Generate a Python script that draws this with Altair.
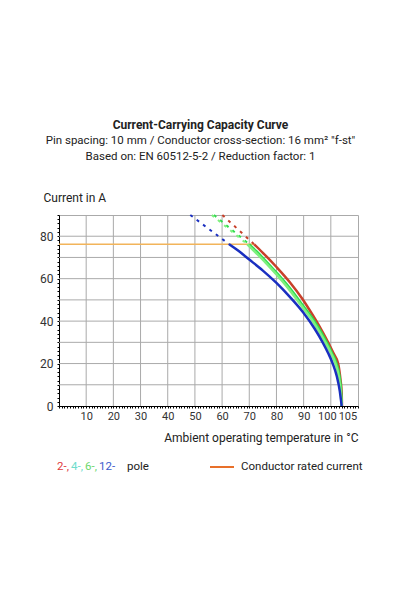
import altair as alt
import pandas as pd

# ---- data ----
series_names = ["2-pole", "4-pole", "6-pole", "12-pole"]
series_colors = ["#c8402a", "#2fdc4e", "#7ff07e", "#1a2fc0"]

# solid curves (temperature °C, current A)
t_2 = [71.8, 75.0, 80.0, 85.0, 89.5, 92.0, 94.6, 97.0, 99.0, 101.0, 102.7, 103.5, 104.0, 104.1]
i_2 = [76.2, 72.2, 65.5, 58.2, 50.5, 45.6, 40.2, 34.8, 30.0, 24.8, 20.0, 13.0, 6.0, 0.0]
t_4 = [70.0, 72.7, 76.6, 80.6, 84.6, 88.2, 91.1, 94.1, 96.6, 98.5, 100.4, 102.1, 103.2, 103.8, 104.05]
i_4 = [76.2, 72.8, 67.6, 62.0, 56.0, 50.0, 45.0, 39.7, 34.5, 30.0, 25.0, 20.0, 14.0, 7.0, 0.0]
t_6 = [69.3, 72.0, 76.0, 80.0, 84.0, 87.6, 90.5, 93.5, 96.0, 98.0, 100.0, 101.7, 102.9, 103.6, 104.0]
i_6 = [76.2, 72.8, 67.6, 62.0, 56.0, 50.0, 45.0, 39.7, 34.5, 30.0, 25.0, 20.0, 14.0, 7.0, 0.0]
t_12 = [62.6, 66.0, 70.0, 75.0, 80.0, 85.0, 90.0, 94.0, 97.0, 99.0, 100.7, 102.2, 103.3, 104.0]
i_12 = [76.2, 73.1, 69.0, 63.8, 58.0, 51.3, 43.8, 36.5, 30.0, 25.0, 20.0, 14.0, 7.0, 0.0]

# dashed extensions above the rated current
dash_t_2 = [60.1, 71.8]
dash_i_2 = [90.0, 76.2]
dash_t_4 = [57.0, 70.0]
dash_i_4 = [90.0, 76.2]
dash_t_6 = [56.2, 69.3]
dash_i_6 = [90.0, 76.2]
dash_t_12 = [48.3, 62.6]
dash_i_12 = [90.0, 76.2]

# conductor rated current
rated_t = [0.0, 71.8]
rated_i = [76.2, 76.2]

grid_x = [10, 20, 30, 40, 50, 60, 70, 80, 90, 100]
grid_y = [10, 20, 30, 40, 50, 60, 70, 80]
x_labels = [10, 20, 30, 40, 50, 60, 70, 80, 90, 100, 105]
y_labels = [0, 20, 40, 60, 80]

title_text = "Current-Carrying Capacity Curve"
subtitle_text = ["Pin spacing: 10 mm / Conductor cross-section: 16 mm\u00b2 \"f-st\"",
                 "Based on: EN 60512-5-2 / Reduction factor: 1"]
x_title = "Ambient operating temperature in \u00b0C"
y_title = "Current in A"

FONT = "Roboto"
W, H = 299, 191

rows = []
for name, ts, is_ in [("2-pole", t_2, i_2), ("4-pole", t_4, i_4),
                      ("6-pole", t_6, i_6), ("12-pole", t_12, i_12)]:
    for t, i in zip(ts, is_):
        rows.append({"T": t, "I": i, "series": name})
solid_df = pd.DataFrame(rows)

rows = []
for name, ts, is_ in [("2-pole", dash_t_2, dash_i_2), ("4-pole", dash_t_4, dash_i_4),
                      ("6-pole", dash_t_6, dash_i_6), ("12-pole", dash_t_12, dash_i_12)]:
    for t, i in zip(ts, is_):
        rows.append({"T": t, "I": i, "series": name})
dash_df = pd.DataFrame(rows)

rated_df = pd.DataFrame({"T": rated_t, "I": rated_i})
gx_df = pd.DataFrame({"gx": grid_x})
gy_df = pd.DataFrame({"gy": grid_y})

xscale = alt.Scale(domain=[0, 110], nice=False, zero=False)
yscale = alt.Scale(domain=[0, 90], nice=False)
cscale = alt.Scale(domain=series_names, range=series_colors)

x_label_expr = "indexof([" + ",".join(str(v) for v in x_labels) + "], datum.value) >= 0 ? datum.label : ''"
y_label_expr = "indexof([" + ",".join(str(v) for v in y_labels) + "], datum.value) >= 0 ? datum.label : ''"

x_axis = alt.Axis(values=list(range(0, 111, 1)), labelExpr=x_label_expr, grid=False,
                  tickSize=2, tickColor="#000", domainColor="#000", labelFontSize=11,
                  labelColor="#333", labelFont=FONT, labelPadding=2, labelOverlap=False,
                  labelOffset={"condition": [{"test": "datum.value == 100", "value": -4},
                                             {"test": "datum.value == 105", "value": 3}],
                               "value": 0},
                  title=x_title, titleFont=FONT, titleFontSize=12, titleFontWeight="normal",
                  titleColor="#222", titleAlign="right", titleX=W, titleY=31,
                  titleBaseline="middle")
y_axis = alt.Axis(values=list(range(0, 91, 2)), labelExpr=y_label_expr, grid=False,
                  tickSize=2, tickColor="#000", domainColor="#000", labelFontSize=12,
                  labelColor="#333", labelFont=FONT, labelPadding=4, labelOverlap=False,
                  title=y_title, titleFont=FONT, titleFontSize=12, titleFontWeight="normal",
                  titleColor="#222", titleAngle=0, titleAlign="left", titleBaseline="middle",
                  titleX=-16, titleY=-18)


def X(field):
    return alt.X(field, scale=xscale, axis=x_axis)


def Y(field):
    return alt.Y(field, scale=yscale, axis=y_axis)


vgrid = alt.Chart(gx_df).mark_rule(color="#aaaaaa", strokeWidth=1).encode(x=X("gx:Q"))
hgrid = alt.Chart(gy_df).mark_rule(color="#aaaaaa", strokeWidth=1).encode(y=Y("gy:Q"))

rated = alt.Chart(rated_df).mark_line(color="#f2b45a", strokeWidth=1.5).encode(
    x=X("T:Q"), y=Y("I:Q"))

dashed = alt.Chart(dash_df).mark_line(strokeWidth=2, strokeDash=[3, 5]).encode(
    x=X("T:Q"), y=Y("I:Q"),
    color=alt.Color("series:N", scale=cscale, legend=None),
    detail="series:N")

solid = alt.Chart(solid_df).mark_line(strokeWidth=2.5, interpolate="monotone").encode(
    x=X("T:Q"), y=Y("I:Q"),
    color=alt.Color("series:N", scale=cscale, legend=None),
    order=alt.Order("T:Q"),
    detail="series:N")

LY = 252


def txt(s, x, color, size=11.5):
    return alt.Chart(gx_df).mark_text(text=s, align="left", baseline="middle", font=FONT,
                                      fontSize=size, color=color).encode(
        x=alt.value(x), y=alt.value(LY)).transform_filter("datum.gx == 10")


legend_layers = [
    txt("2-,", -2, "#e0393e"),
    txt("4-,", 12, "#6edccc"),
    txt("6-,", 26, "#6cd86c"),
    txt("12-", 40, "#3b5bcc"),
    txt("pole", 68, "#222222"),
    txt("Conductor rated current", 182, "#222222"),
    alt.Chart(gx_df).mark_rule(color="#e8702a", strokeWidth=2).encode(
        x=alt.value(151), x2=alt.value(175), y=alt.value(LY)).transform_filter("datum.gx == 10"),
]

chart = alt.layer(vgrid, hgrid, rated, dashed, solid, *legend_layers).properties(
    width=W, height=H,
    title=alt.TitleParams(text=title_text, subtitle=subtitle_text, anchor="middle",
                          font=FONT, fontSize=12, fontWeight="bold", color="#222",
                          subtitleFont=FONT, subtitleFontSize=11.5, subtitleColor="#222",
                          subtitleLineHeight=16, subtitlePadding=3, offset=28, dx=-8),
    autosize=alt.AutoSizeParams(type="none"),
    padding={"left": 51, "top": 207, "right": 26, "bottom": 90},
).configure_view(stroke="#aaaaaa", strokeWidth=1)

chart.save("out.html", embed_options={"renderer": "svg", "actions": False})
